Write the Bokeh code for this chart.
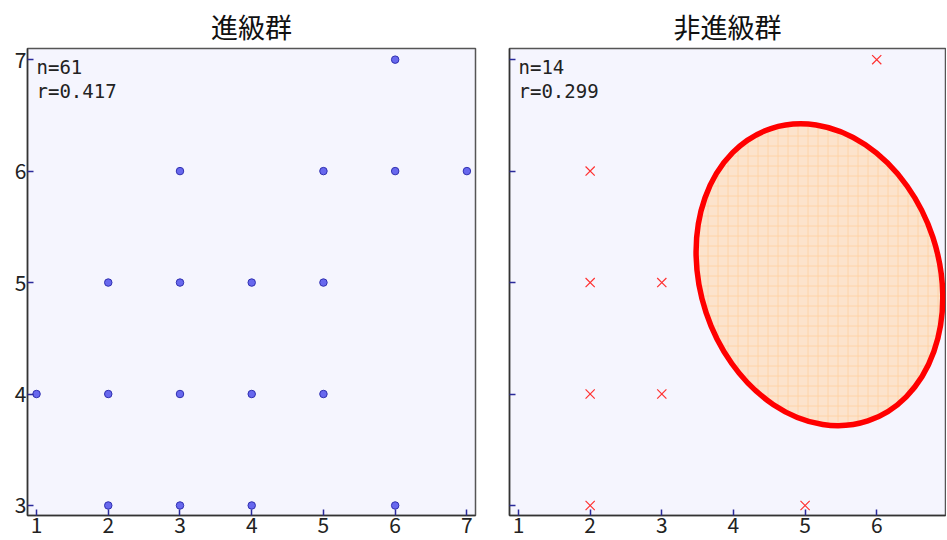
from bokeh.plotting import figure
from bokeh.layouts import row
from bokeh.models import Range1d, FixedTicker, Label
from bokeh.embed import file_html
from bokeh.resources import INLINE

# ---- data ----
titles = ["進級群", "非進級群"]
stats_left = ["n=61", "r=0.417"]
stats_right = ["n=14", "r=0.299"]
ticks = [1, 2, 3, 4, 5, 6, 7]
yticks = [3, 4, 5, 6, 7]

left_x = [6, 3, 5, 6, 7, 2, 3, 4, 5, 1, 2, 3, 4, 5, 2, 3, 4, 6]
left_y = [7, 6, 6, 6, 6, 5, 5, 5, 5, 4, 4, 4, 4, 4, 3, 3, 3, 3]

right_x = [6, 2, 2, 3, 2, 3, 2, 5]
right_y = [7, 6, 5, 5, 4, 4, 3, 3]

ellipse_cx = [5.2]
ellipse_cy = [5.07]

FONT = "Noto Sans CJK JP"
MONO = "DejaVu Sans Mono"
BG = "#F5F5FE"
TICK = "#2a2a9a"
X0, Y0, Y1 = 0.874, 2.91, 7.10


def make_fig(title, width, border_left, border_right, x_end, show_ylabels):
    p = figure(width=width, height=538, output_backend="svg", toolbar_location=None,
               x_range=Range1d(X0, x_end), y_range=Range1d(Y0, Y1),
               min_border_left=border_left, min_border_right=border_right,
               min_border_top=48, min_border_bottom=23, title=title)
    p.title.text_font = FONT
    p.title.text_font_size = "27px"
    p.title.text_font_style = "normal"
    p.title.align = "center"
    p.title.standoff = 6
    p.title.text_color = "#111111"
    p.background_fill_color = BG
    p.border_fill_color = "white"
    p.outline_line_color = "#555555"
    p.outline_line_width = 1.5
    p.grid.visible = False
    for ax in (p.xaxis[0], p.yaxis[0]):
        ax.major_tick_in = 6
        ax.major_tick_out = 0
        ax.minor_tick_in = 0
        ax.minor_tick_out = 0
        ax.major_tick_line_color = TICK
        ax.major_tick_line_width = 1.5
        ax.axis_line_color = "#333333"
        ax.axis_line_width = 1.5
        ax.major_label_text_font = FONT
        ax.major_label_text_font_size = "21px"
        ax.major_label_text_color = "#222222"
        ax.major_label_standoff = 1
    p.xaxis.ticker = FixedTicker(ticks=ticks)
    p.yaxis.ticker = FixedTicker(ticks=yticks)
    if not show_ylabels:
        p.yaxis.major_label_overrides = {t: "" for t in yticks}
    return p


def add_stats(p, lines):
    for i, s in enumerate(lines):
        p.add_layout(Label(x=X0, y=Y1, x_offset=9, y_offset=-7 - i * 24,
                           text=s, text_font=MONO, text_font_size="19px",
                           text_color="#222222", text_baseline="top"))


left = make_fig(titles[0], 492, 27, 17, 7.12, True)
left.scatter(left_x, left_y, marker="circle", size=7.5, fill_color="#6868EE",
             line_color="#3030B0", line_width=1)
add_stats(left, stats_left)

right = make_fig(titles[1], 454, 17, 1, 6.96, False)
right.ellipse(ellipse_cx, ellipse_cy, width=239, height=308, width_units="screen",
              height_units="screen", angle=0.32, fill_color="#FCE3CC",
              hatch_pattern="+", hatch_color="#FFC992", hatch_alpha=0.6,
              hatch_scale=10, hatch_weight=1,
              line_color="#FF0000", line_width=5.5)
right.scatter(right_x, right_y, marker="x", size=13, line_color="#FF3030", line_width=1.2)
add_stats(right, stats_right)

layout = row(left, right, spacing=0)
open("out.html", "w").write(file_html(layout, INLINE))
